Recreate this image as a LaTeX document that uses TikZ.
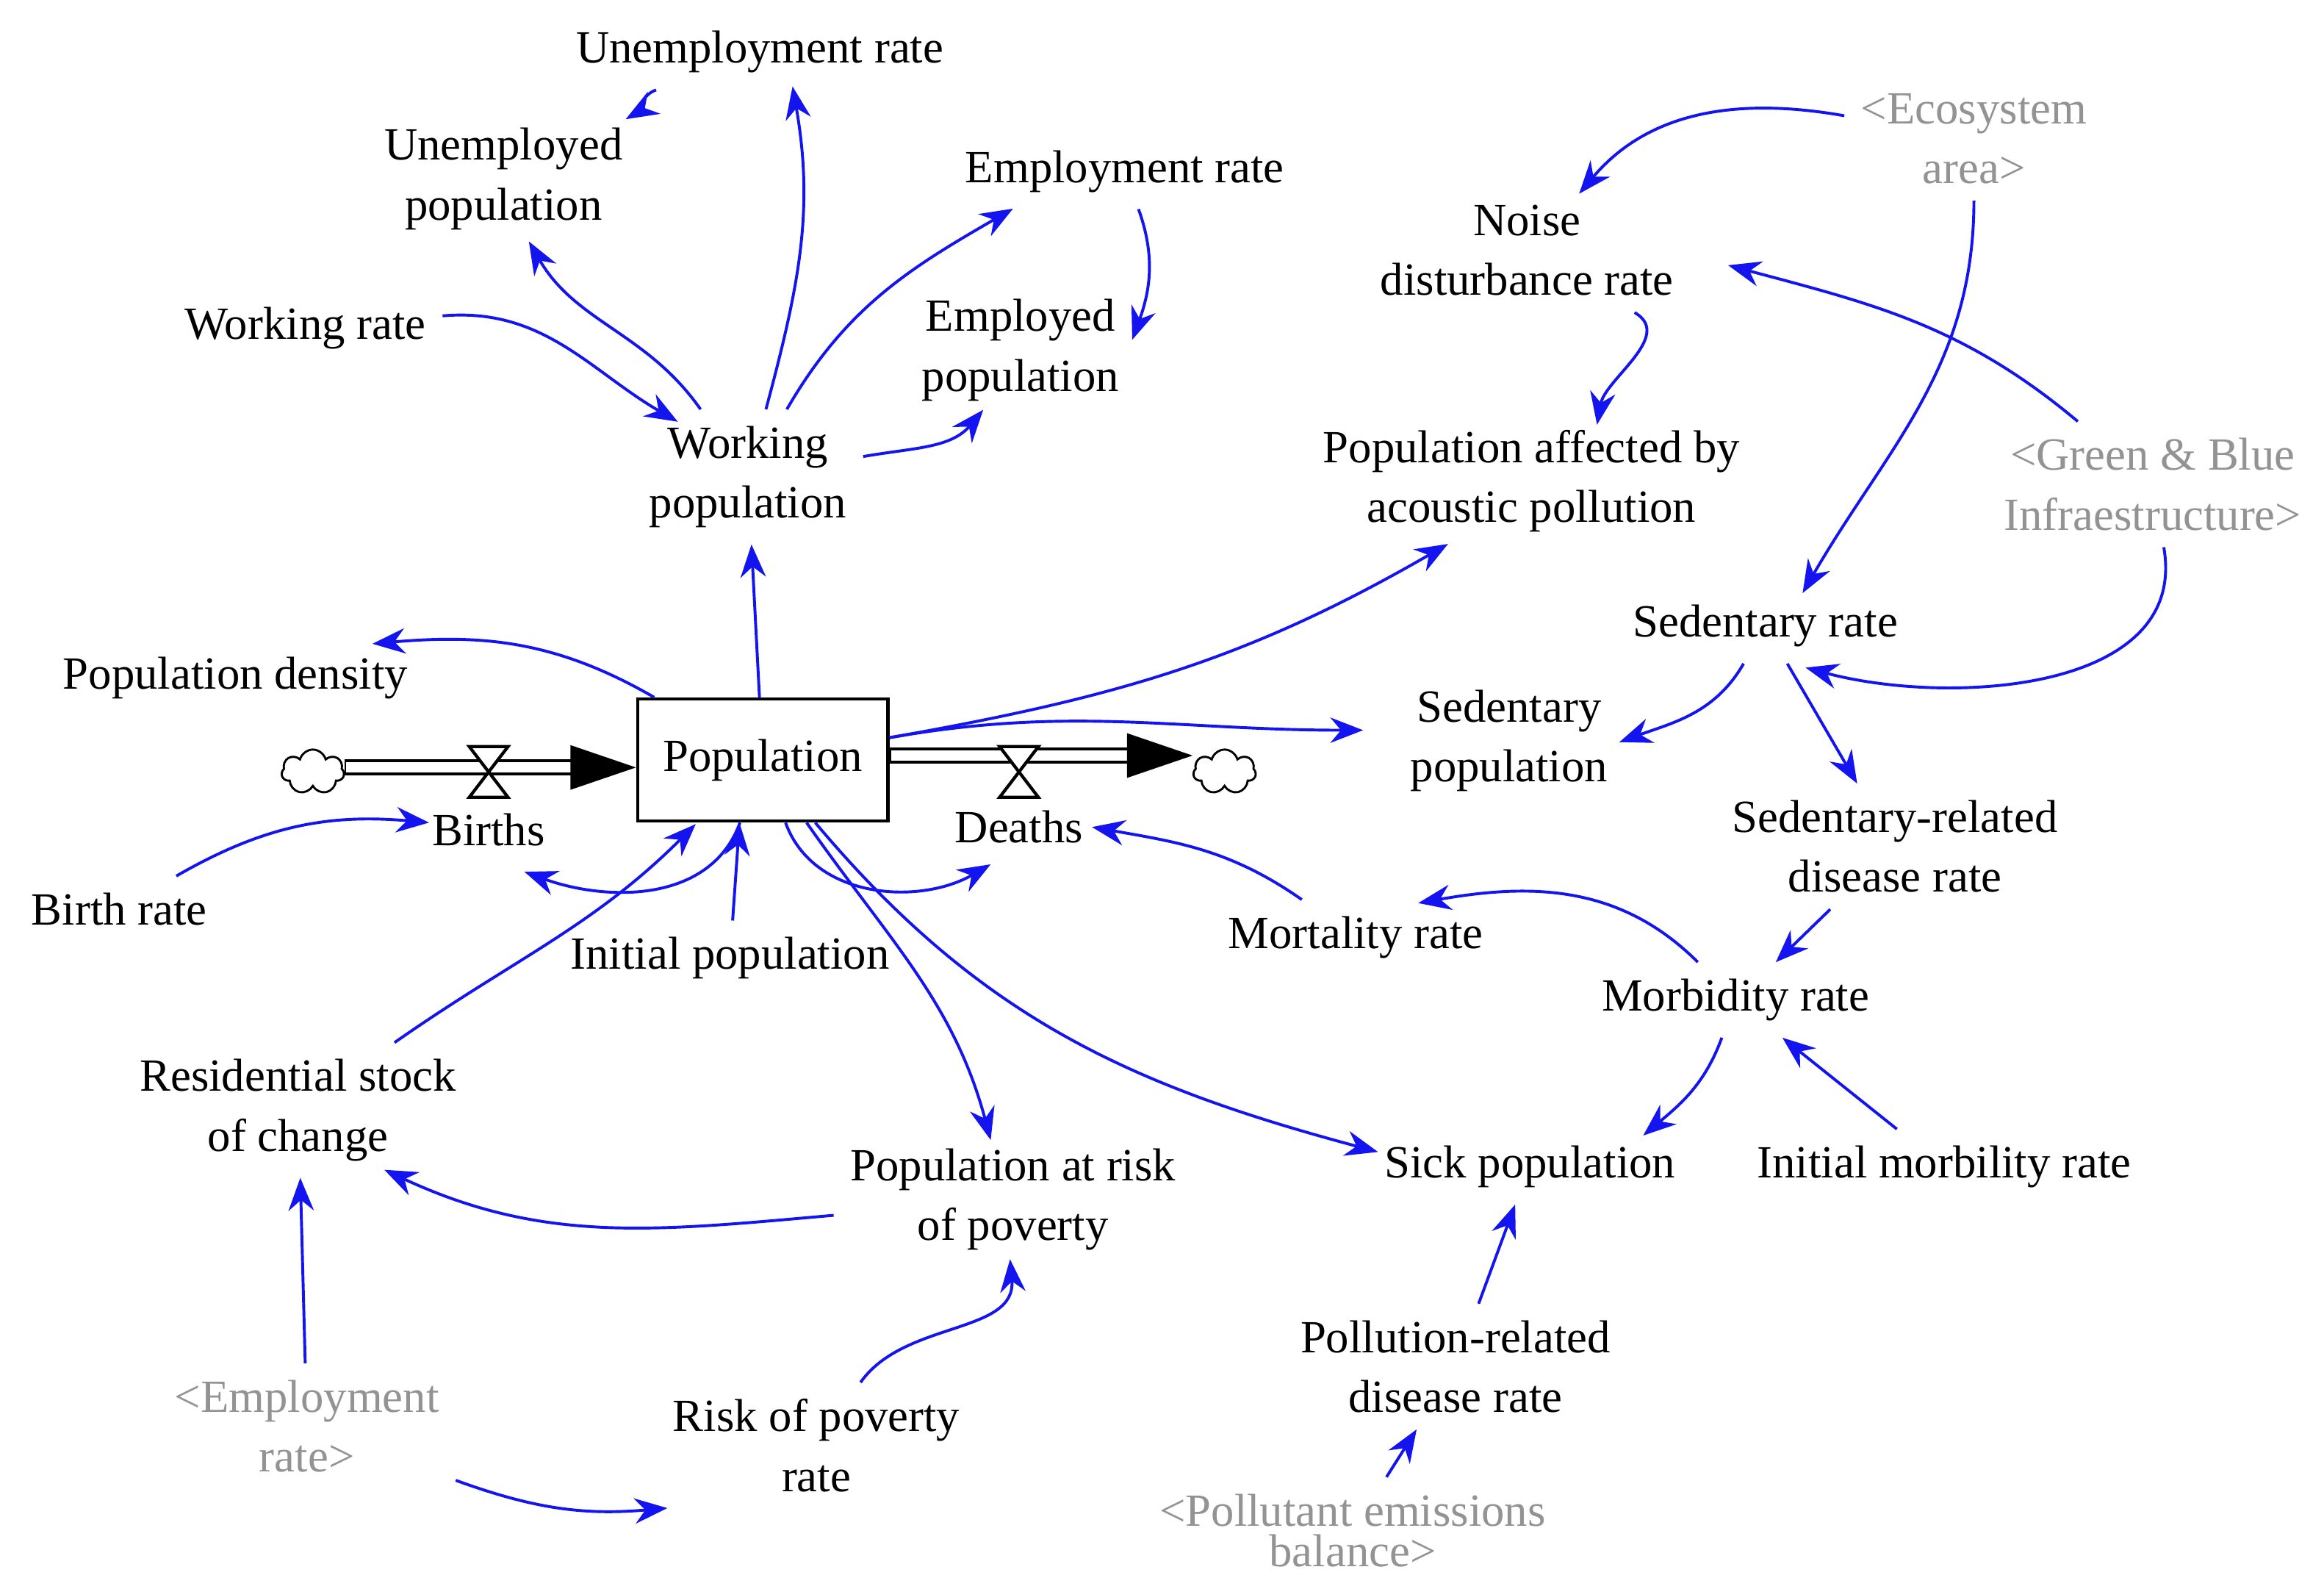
\documentclass[tikz,border=0pt]{standalone}
\usepackage{fontspec}
\setmainfont{Liberation Serif}
\usetikzlibrary{arrows.meta,shapes.symbols}
\definecolor{ablue}{RGB}{20,20,240}
\begin{document}
\begin{tikzpicture}[x=0.01cm,y=-0.01cm,
  v/.style={align=center,inner sep=3pt,font=\fontsize{8.8}{11.4}\selectfont},
  g/.style={v,text=gray!85},
  a/.style={draw=ablue,line width=0.55pt,-{Stealth[length=0.22cm,width=0.17cm]}}]
\useasboundingbox[fill=white] (0,0) rectangle (1560,1066);
\node[v] (UR) at (510,35) {Unemployment rate};
\node[v] (UP) at (338,120) {Unemployed\\population};
\node[v] (ER) at (755,115) {Employment rate};
\node[v] (EP) at (685,235) {Employed\\population};
\node[v] (WR) at (205,220) {Working rate};
\node[v] (WP) at (502,320) {Working\\population};
\node[v] (NO) at (1025,168) {Noise\\disturbance rate};
\node[g] (EC) at (1325,93) {<Ecosystem\\area>};
\node[v] (PA) at (1028,323) {Population affected by\\acoustic pollution};
\node[g] (GB) at (1445,325) {<Green \& Blue\\Infraestructure>};
\node[v] (SR) at (1185,420) {Sedentary rate};
\node[v] (PD) at (158,455) {Population density};
\node[v,draw,line width=0.6pt,minimum width=1.68cm,minimum height=0.82cm] (P) at (512,510) {Population};
\node[v] (SP) at (1013,497) {Sedentary\\population};
\node[v] (B) at (328,557) {Births};
\node[v] (D) at (684,555) {Deaths};
\node[v] (BR) at (80,610) {Birth rate};
\node[v] (IP) at (490,643) {Initial population};
\node[v] (SD) at (1272,568) {Sedentary-related\\disease rate};
\node[v] (MR) at (910,629) {Mortality rate};
\node[v] (MB) at (1165,671) {Morbidity rate};
\node[v] (RS) at (200,745) {Residential stock\\of change};
\node[v] (PR) at (680,805) {Population at risk\\of poverty};
\node[v] (SK) at (1027,783) {Sick population};
\node[v] (IM) at (1305,783) {Initial morbility rate};
\node[g] (E2) at (206,957) {<Employment\\rate>};
\node[v] (RP) at (548,970) {Risk of poverty\\rate};
\node[v] (PL) at (977,917) {Pollution-related\\disease rate};
\node[g,font=\fontsize{8.8}{7.8}\selectfont] (PE) at (908,1027) {<Pollutant emissions\\balance>};
% stock-flow pipes
\node[cloud,draw,cloud puffs=7,aspect=1.4,minimum width=0.42cm,minimum height=0.3cm,inner sep=0pt] (C1) at (210,518) {};
\node[cloud,draw,cloud puffs=7,aspect=1.4,minimum width=0.42cm,minimum height=0.3cm,inner sep=0pt] (C2) at (822,518) {};
\foreach \s/\e in {C1.east/P.west, P.east/C2.west}{
  \draw[line width=0.11cm] ([yshift=0.03cm]\s) coordinate(tmp) -- ([xshift=-0.4cm]\e |- tmp);
  \draw[line width=0.07cm,white] ([xshift=0.01cm,yshift=0.03cm]\s) coordinate(tmp) -- ([xshift=-0.42cm]\e |- tmp);
  \fill ([xshift=-0.44cm,yshift=0.15cm]\e |- tmp) -- (\e |- tmp) -- ([xshift=-0.44cm,yshift=-0.15cm]\e |- tmp) -- cycle;
}
\foreach \x in {328,684}{
  \draw[fill=white,line width=0.6pt] (\x-13,501) -- (\x+13,501) -- (\x-13,535) -- (\x+13,535) -- cycle;
}
% connectors
\draw[a] ([shift={(-45,25)}]UR) to[out=200,in=30] ([shift={(82,-40)}]UP);
\draw[a] ([shift={(18,-38)}]WP) to[out=75,in=-80] ([shift={(22,23)}]UR);
\draw[a] ([shift={(-77,-35)}]WP) to[out=125,in=-60] ([shift={(17,42)}]UP);
\draw[a] ([shift={(85,2)}]WR) to[out=5,in=150] ([shift={(-47,-37)}]WP);
\draw[a] ([shift={(18,-40)}]WP) to[out=60,in=-150] ([shift={(-75,25)}]ER);
\draw[a] ([shift={(20,25)}]ER) to[out=-70,in=70] ([shift={(75,-7)}]EP);
\draw[a] ([shift={(70,5)}]WP) to[out=10,in=-130] ([shift={(-25,40)}]EP);
\draw[a] ([shift={(-2,-41)}]P) -- ([shift={(3,42)}]WP);
\draw[a] ([shift={(-67,-41)}]P) to[out=150,in=5] ([shift={(92,-23)}]PD);
\draw[a] ([shift={(84,-10)}]P) to[out=10,in=-150] ([shift={(-56,42)}]PA);
\draw[a] ([shift={(88,-13)}]P) to[out=10,in=180] ([shift={(-98,-7)}]SP);
\draw[a] ([shift={(-70,-41)}]EC) to[out=170,in=50] ([shift={(35,-38)}]NO);
\draw[a] ([shift={(-3,42)}]EC) to[out=-90,in=60] ([shift={(25,-22)}]SR);
\draw[a] ([shift={(-53,-43)}]GB) to[out=140,in=-15] ([shift={(135,10)}]NO);
\draw[a] ([shift={(-10,43)}]GB) to[out=-80,in=-15] ([shift={(27,28)}]SR);
\draw[a] ([shift={(50,40)}]NO) to[out=-30,in=80] ([shift={(44,-38)}]PA);
\draw[a] ([shift={(-15,25)}]SR) to[out=-120,in=20] ([shift={(74,1)}]SP);
\draw[a] ([shift={(13,25)}]SR) -- ([shift={(-24,-40)}]SD);
\draw[a] ([shift={(-42,42)}]SD) -- ([shift={(25,-21)}]MB);
\draw[a] ([shift={(-20,-23)}]MB) to[out=135,in=10] ([shift={(42,-23)}]MR);
\draw[a] ([shift={(-32,-23)}]MR) to[out=145,in=-10] ([shift={(49,0)}]D);
\draw[a] ([shift={(-7,24)}]MB) to[out=-110,in=40] ([shift={(76,-21)}]SK);
\draw[a] ([shift={(-27,-21)}]IM) -- ([shift={(30,26)}]MB);
\draw[a] ([shift={(36,41)}]P) to[out=-50,in=165] ([shift={(-102,-10)}]SK);
\draw[a] ([shift={(33,41)}]P) to[out=-55,in=105] ([shift={(-15,-40)}]PR);
\draw[a] ([shift={(-19,42)}]P) to[out=-110,in=-20] ([shift={(24,28)}]B);
\draw[a] ([shift={(11,42)}]P) to[out=-70,in=-150] ([shift={(-19,25)}]D);
\draw[a] ([shift={(-20,-20)}]IP) -- ([shift={(-14,43)}]P);
\draw[a] ([shift={(37,-23)}]BR) to[out=30,in=175] ([shift={(-40,-5)}]B);
\draw[a] ([shift={(62,-40)}]RS) to[out=35,in=-135] ([shift={(-45,43)}]P);
\draw[a] ([shift={(-115,33)}]PR) to[out=185,in=-25] ([shift={(58,40)}]RS);
\draw[a] ([shift={(0,-40)}]E2) -- ([shift={(3,40)}]RS);
\draw[a] ([shift={(74,38)}]E2) to[out=-20,in=185] ([shift={(-100,42)}]RP);
\draw[a] ([shift={(88,-42)}]RP) to[out=55,in=-85] ([shift={(-2,40)}]PR);
\draw[a] ([shift={(13,-40)}]PL) -- ([shift={(-12,23)}]SK);
\draw[a] ([shift={(22,-34)}]PE) -- ([shift={(-27,40)}]PL);
\end{tikzpicture}
\end{document}
